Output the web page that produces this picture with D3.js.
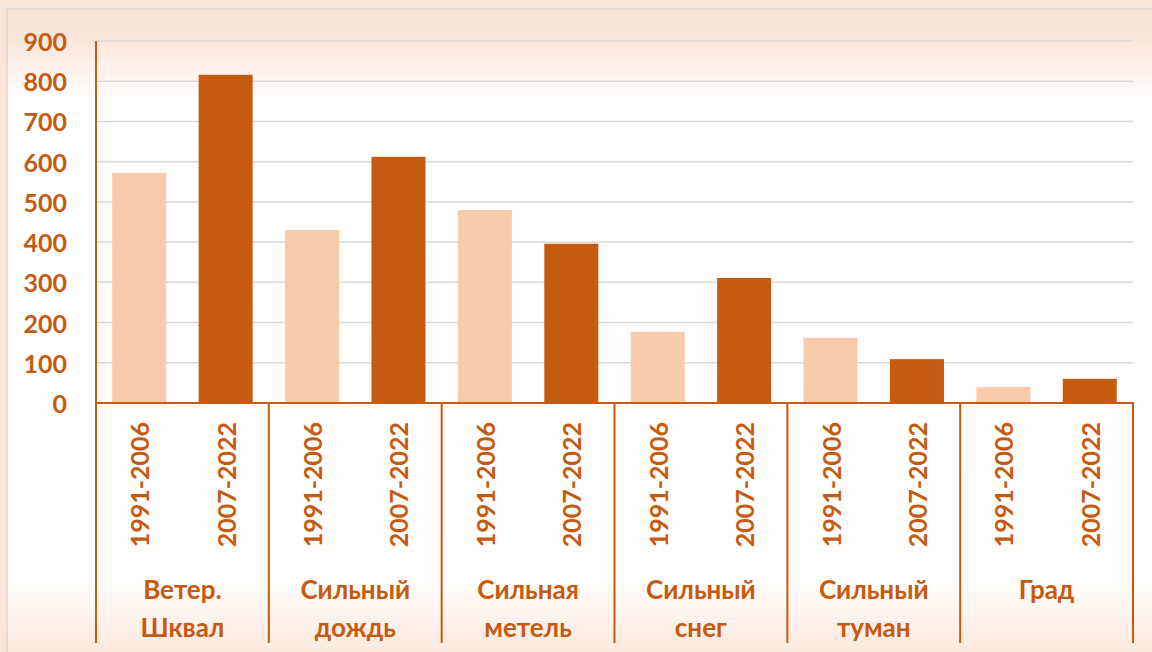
<!DOCTYPE html>
<html><head><meta charset="utf-8">
<script src="https://cdn.jsdelivr.net/npm/d3@7"></script>
<style>html,body{margin:0;padding:0;background:#FAE5D8;overflow:hidden}</style>
</head><body>
<svg id="c" width="1152" height="652"></svg>
<script>
const categories = ["Ветер. Шквал", "Сильный дождь", "Сильная метель", "Сильный снег", "Сильный туман", "Град"];
const categoryLines = [["Ветер.", "Шквал"], ["Сильный", "дождь"], ["Сильная", "метель"], ["Сильный", "снег"], ["Сильный", "туман"], ["Град"]];
const periods = ["1991-2006", "2007-2022"];
const values1991 = [572, 430, 480, 177, 162, 40];
const values2007 = [816, 612, 396, 311, 109, 60];
const yTicks = [0, 100, 200, 300, 400, 500, 600, 700, 800, 900];

const svg = d3.select("#c");
const W = 1152, H = 652;
const orange = "#C55A11", light = "#F8CBAD";
const font = "Lato, 'Open Sans', sans-serif";

const defs = svg.append("defs");
const g = defs.append("linearGradient").attr("id","bg").attr("x1",0).attr("y1",0).attr("x2",0).attr("y2",1);
g.append("stop").attr("offset","0%").attr("stop-color","#F9E3D5");
g.append("stop").attr("offset","4%").attr("stop-color","#F9E4D7");
g.append("stop").attr("offset","14%").attr("stop-color","#FFFFFF");
g.append("stop").attr("offset","88%").attr("stop-color","#FFFDFB");
g.append("stop").attr("offset","100%").attr("stop-color","#FAE6DA");

svg.append("rect").attr("x",7).attr("y",9).attr("width",W).attr("height",H)
  .attr("fill","url(#bg)").attr("stroke","#D9D9D9").attr("stroke-width",1.5);

const x0 = 96, x1 = 1133, yTop = 41, yBot = 403;
const y = d3.scaleLinear().domain([0, 900]).range([yBot, yTop]);
const xc = d3.scaleBand().domain(categories).range([x0, x1]).padding(0);
const xp = d3.scaleBand().domain(periods).range([0, xc.bandwidth()]).paddingInner(0.375).paddingOuter(0.1875);

// gridlines
svg.append("g").selectAll("line").data(yTicks.filter(d=>d>0)).join("line")
  .attr("x1",x0).attr("x2",x1).attr("y1",d=>y(d)).attr("y2",d=>y(d))
  .attr("stroke","#D9D9D9").attr("stroke-width",1.5);

// y labels
svg.append("g").selectAll("text").data(yTicks).join("text")
  .attr("x",67).attr("y",d=>y(d)).attr("text-anchor","end").attr("dominant-baseline","central")
  .attr("fill",orange).attr("font-family",font).attr("font-weight",700).attr("font-size",25)
  .text(d=>d);

// bars
const data = categories.map((c,i)=>({c, v:[values1991[i], values2007[i]]}));
const grp = svg.append("g").selectAll("g").data(data).join("g")
  .attr("transform",d=>`translate(${xc(d.c)},0)`);
grp.selectAll("rect").data(d=>d.v.map((v,j)=>({p:periods[j], v, j}))).join("rect")
  .attr("x",d=>xp(d.p)).attr("width",xp.bandwidth())
  .attr("y",d=>y(d.v)).attr("height",d=>yBot - y(d.v))
  .attr("fill",d=>d.j===0?light:orange);

// period labels
grp.selectAll("text.p").data(periods).join("text").attr("class","p")
  .attr("transform",p=>`translate(${xp(p)+xp.bandwidth()/2},422) rotate(-90)`)
  .attr("text-anchor","end").attr("dominant-baseline","central")
  .attr("fill",orange).attr("font-family",font).attr("font-weight",700).attr("font-size",25)
  .text(p=>p);

// category labels
grp.each(function(d,i){
  const lines = categoryLines[i];
  d3.select(this).selectAll("text.c").data(lines).join("text").attr("class","c")
    .attr("x",xc.bandwidth()/2).attr("y",(l,k)=>589+k*38).attr("text-anchor","middle")
    .attr("dominant-baseline","central")
    .attr("fill",orange).attr("font-family",font).attr("font-weight",700).attr("font-size",26)
    .text(l=>l);
});

// axes lines
svg.append("line").attr("x1",x0).attr("x2",x0).attr("y1",yTop).attr("y2",yBot).attr("stroke",orange).attr("stroke-width",2);
svg.append("line").attr("x1",x0).attr("x2",x1+1).attr("y1",yBot).attr("y2",yBot).attr("stroke",orange).attr("stroke-width",2);
const seps = categories.map(c=>xc(c)).concat([x1]);
svg.append("g").selectAll("line").data(seps).join("line")
  .attr("x1",d=>d).attr("x2",d=>d).attr("y1",yBot).attr("y2",643)
  .attr("stroke",orange).attr("stroke-width",2);
</script>
</body></html>
